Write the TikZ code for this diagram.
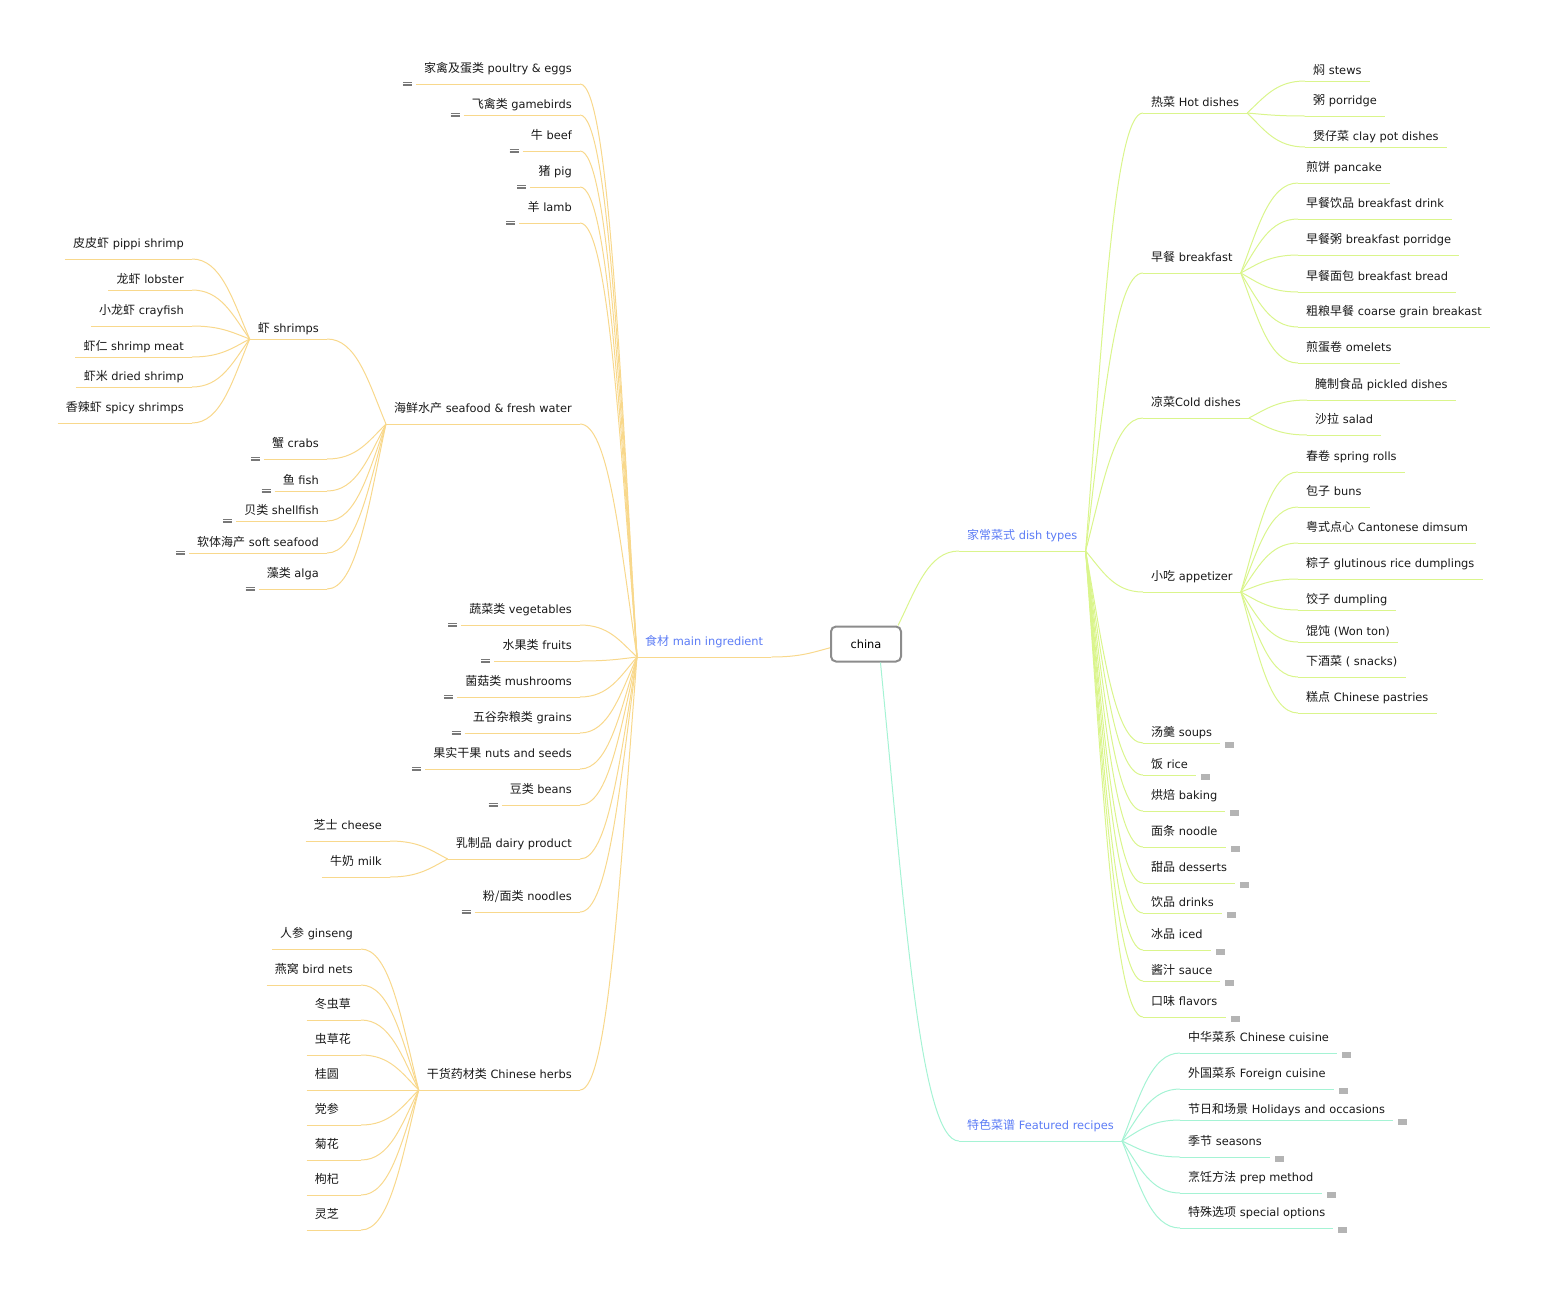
\documentclass[tikz,border=0pt]{standalone}
\usepackage{fontspec}
\setmainfont{DejaVu Sans}
\newfontfamily\zhfont{Noto Sans CJK SC}
\usepackage{tikz}
\usetikzlibrary{calc}
\definecolor{ingr}{RGB}{248,216,140}
\definecolor{dish}{RGB}{218,245,140}
\definecolor{feat}{RGB}{165,243,212}
\definecolor{mainblue}{RGB}{92,124,245}
\definecolor{notegray}{RGB}{120,120,120}
\definecolor{boxgray}{RGB}{180,180,180}
\newcommand{\zh}[1]{{\zhfont\fontsize{12pt}{14pt}\selectfont #1}}
\tikzset{
  topic/.style ={inner xsep=8pt,inner ysep=0pt,text height=10pt,text depth=11pt,
                 font=\fontsize{11.4pt}{14pt}\selectfont,text=black!90},
  lt/.style    ={topic,anchor=south east},
  rt/.style    ={topic,anchor=south west},
  tight/.style ={text depth=6pt},
  main/.style  ={topic,text=mainblue},
  herb/.style  ={lt,text width=38pt,align=left},
  root/.style  ={draw=black!45,line width=2pt,rounded corners=5pt,minimum width=70pt,
                 minimum height=35pt,font=\fontsize{11.4pt}{14pt}\selectfont},
  branch/.style={to path={let \p1=(\tikztostart),\p2=(\tikztotarget) in
                 .. controls ({\x1+0.3*(\x2-\x1)},{\y1+0.5*(\y2-\y1)})
                 and ({\x1+0.5*(\x2-\x1)},\y2) .. (\tikztotarget)}},
  ingrln/.style={draw=ingr,line width=1pt},
  dishln/.style={draw=dish,line width=1pt},
  featln/.style={draw=feat,line width=1pt},
  notes/.style ={draw=notegray,line width=0.8pt},
  more/.style  ={fill=boxgray},
}

\begin{document}
\begin{tikzpicture}[x=1pt,y=-1pt]
\useasboundingbox (0,0) rectangle (1550,1288);
%% centre
\node[root] (china) at (866,644) {china};
\node[main,anchor=south west] (mi) at (637,657) {\zh{食材} main ingredient};
\node[main,anchor=south west] (dt) at (959,551) {\zh{家常菜式} dish types};
\node[main,anchor=south west] (fr) at (959,1141) {\zh{特色菜谱} Featured recipes};
\draw[ingrln] (china.186) to[branch] (mi.south east);
\draw[dishln] (china.30)  to[branch] (dt.south west);
\draw[featln] (china.-52) to[branch] (fr.south west);
%% left: main ingredient
\node[lt] (pe) at (580,84)   {\zh{家禽及蛋类} poultry \& eggs};
\node[lt,tight] (gb) at (580,115)  {\zh{飞禽类} gamebirds};
\node[lt] (bf) at (580,151)  {\zh{牛} beef};
\node[lt] (pg) at (580,187)  {\zh{猪} pig};
\node[lt] (lb) at (580,223)  {\zh{羊} lamb};
\node[lt] (sf) at (580,424)  {\zh{海鲜水产} seafood \& fresh water};
\node[lt] (vg) at (580,625)  {\zh{蔬菜类} vegetables};
\node[lt] (ft) at (580,661)  {\zh{水果类} fruits};
\node[lt] (ms) at (580,697)  {\zh{菌菇类} mushrooms};
\node[lt] (gr) at (580,733)  {\zh{五谷杂粮类} grains};
\node[lt] (nt) at (580,769)  {\zh{果实干果} nuts and seeds};
\node[lt] (bn) at (580,805)  {\zh{豆类} beans};
\node[lt] (dp) at (580,859)  {\zh{乳制品} dairy product};
\node[lt] (nd) at (580,912)  {\zh{粉/面类} noodles};
\node[lt] (hb) at (580,1090) {\zh{干货药材类} Chinese herbs};
% seafood
\node[lt,tight] (sh) at (327,339)  {\zh{虾} shrimps};
\node[lt] (cr) at (327,459)  {\zh{蟹} crabs};
\node[lt,tight] (fi) at (327,491)  {\zh{鱼} fish};
\node[lt,tight] (se) at (327,521)  {\zh{贝类} shellfish};
\node[lt,tight] (ss) at (327,553)  {\zh{软体海产} soft seafood};
\node[lt] (al) at (327,589)  {\zh{藻类} alga};
% shrimps
\node[lt] (s1) at (192,259)  {\zh{皮皮虾} pippi shrimp};
\node[lt,tight] (s2) at (192,290)  {\zh{龙虾} lobster};
\node[lt] (s3) at (192,326)  {\zh{小龙虾} crayfish};
\node[lt,tight] (s4) at (192,357)  {\zh{虾仁} shrimp meat};
\node[lt,tight] (s5) at (192,387)  {\zh{虾米} dried shrimp};
\node[lt] (s6) at (192,423)  {\zh{香辣虾} spicy shrimps};
% dairy
\node[lt] (ch) at (390,841)  {\zh{芝士} cheese};
\node[lt] (mk) at (390,877)  {\zh{牛奶} milk};
% herbs
\node[lt]   (h1) at (361,949)  {\zh{人参} ginseng};
\node[lt]   (h2) at (361,985)  {\zh{燕窝} bird nets};
\node[herb] (h3) at (361,1020) {\zh{冬虫草}};
\node[herb] (h4) at (361,1055) {\zh{虫草花}};
\node[herb] (h5) at (361,1090) {\zh{桂圆}};
\node[herb] (h6) at (361,1125) {\zh{党参}};
\node[herb] (h7) at (361,1160) {\zh{菊花}};
\node[herb] (h8) at (361,1195) {\zh{枸杞}};
\node[herb] (h9) at (361,1230) {\zh{灵芝}};
%% right: dish types
\node[rt,tight] (hd) at (1143,113)  {\zh{热菜} Hot dishes};
\node[rt] (bk) at (1143,273)  {\zh{早餐} breakfast};
\node[rt] (cd) at (1143,418)  {\zh{凉菜}Cold dishes};
\node[rt] (ap) at (1143,592)  {\zh{小吃} appetizer};
\node[rt,tight] (sp) at (1143,743)  {\zh{汤羹} soups};
\node[rt,tight] (ri) at (1143,775)  {\zh{饭} rice};
\node[rt] (ba) at (1143,811)  {\zh{烘焙} baking};
\node[rt] (no) at (1143,847)  {\zh{面条} noodle};
\node[rt] (de) at (1143,883)  {\zh{甜品} desserts};
\node[rt,tight] (dr) at (1143,913)  {\zh{饮品} drinks};
\node[rt] (ic) at (1143,950)  {\zh{冰品} iced};
\node[rt,tight] (sa) at (1143,981)  {\zh{酱汁} sauce};
\node[rt] (fl) at (1143,1017) {\zh{口味} flavors};
% hot dishes
\node[rt,tight] (st) at (1305,81)   {\zh{焖} stews};
\node[rt] (po) at (1305,116)  {\zh{粥} porridge};
\node[rt,tight] (cp) at (1305,147)  {\zh{煲仔菜} clay pot dishes};
% breakfast
\node[rt] (b1) at (1298,183)  {\zh{煎饼} pancake};
\node[rt] (b2) at (1298,219)  {\zh{早餐饮品} breakfast drink};
\node[rt] (b3) at (1298,255)  {\zh{早餐粥} breakfast porridge};
\node[rt] (b4) at (1298,292)  {\zh{早餐面包} breakfast bread};
\node[rt] (b5) at (1298,327)  {\zh{粗粮早餐} coarse grain breakast};
\node[rt] (b6) at (1298,363)  {\zh{煎蛋卷} omelets};
% cold dishes
\node[rt] (pk) at (1307,400)  {\zh{腌制食品} pickled dishes};
\node[rt] (sl) at (1307,435)  {\zh{沙拉} salad};
% appetizer
\node[rt] (a1) at (1298,472)  {\zh{春卷} spring rolls};
\node[rt] (a2) at (1298,507)  {\zh{包子} buns};
\node[rt] (a3) at (1298,543)  {\zh{粤式点心} Cantonese dimsum};
\node[rt] (a4) at (1298,579)  {\zh{粽子} glutinous rice dumplings};
\node[rt,tight] (a5) at (1298,610)  {\zh{饺子} dumpling};
\node[rt,tight] (a6) at (1298,642)  {\zh{馄饨} (Won ton)};
\node[rt] (a7) at (1298,677)  {\zh{下酒菜} ( snacks)};
\node[rt] (a8) at (1298,713)  {\zh{糕点} Chinese pastries};
%% right: featured recipes
\node[rt] (f1) at (1180,1053) {\zh{中华菜系} Chinese cuisine};
\node[rt] (f2) at (1180,1089) {\zh{外国菜系} Foreign cuisine};
\node[rt,tight] (f3) at (1180,1120) {\zh{节日和场景} Holidays and occasions};
\node[rt] (f4) at (1180,1157) {\zh{季节} seasons};
\node[rt] (f5) at (1180,1193) {\zh{烹饪方法} prep method};
\node[rt] (f6) at (1180,1228) {\zh{特殊选项} special options};
%% underlines
\foreach \c in {mi,pe,gb,bf,pg,lb,sf,vg,ft,ms,gr,nt,bn,dp,nd,hb,sh,cr,fi,se,ss,al,
                s1,s2,s3,s4,s5,s6,ch,mk,h1,h2,h3,h4,h5,h6,h7,h8,h9}
  \draw[ingrln] (\c.south west) -- (\c.south east);
\foreach \c in {dt,hd,bk,cd,ap,sp,ri,ba,no,de,dr,ic,sa,fl,st,po,cp,
                b1,b2,b3,b4,b5,b6,pk,sl,a1,a2,a3,a4,a5,a6,a7,a8}
  \draw[dishln] (\c.south west) -- (\c.south east);
\foreach \c in {fr,f1,f2,f3,f4,f5,f6}
  \draw[featln] (\c.south west) -- (\c.south east);
%% branches, left
\foreach \c in {pe,gb,bf,pg,lb,sf,vg,ft,ms,gr,nt,bn,dp,nd,hb}
  \draw[ingrln] (mi.south west) to[branch] (\c.south east);
\foreach \c in {sh,cr,fi,se,ss,al}
  \draw[ingrln] (sf.south west) to[branch] (\c.south east);
\foreach \c in {s1,s2,s3,s4,s5,s6}
  \draw[ingrln] (sh.south west) to[branch] (\c.south east);
\foreach \c in {ch,mk}
  \draw[ingrln] (dp.south west) to[branch] (\c.south east);
\foreach \c in {h1,h2,h3,h4,h5,h6,h7,h8,h9}
  \draw[ingrln] (hb.south west) to[branch] (\c.south east);
%% branches, right
\foreach \c in {hd,bk,cd,ap,sp,ri,ba,no,de,dr,ic,sa,fl}
  \draw[dishln] (dt.south east) to[branch] (\c.south west);
\foreach \c in {st,po,cp}
  \draw[dishln] (hd.south east) to[branch] (\c.south west);
\foreach \c in {b1,b2,b3,b4,b5,b6}
  \draw[dishln] (bk.south east) to[branch] (\c.south west);
\foreach \c in {pk,sl}
  \draw[dishln] (cd.south east) to[branch] (\c.south west);
\foreach \c in {a1,a2,a3,a4,a5,a6,a7,a8}
  \draw[dishln] (ap.south east) to[branch] (\c.south west);
\foreach \c in {f1,f2,f3,f4,f5,f6}
  \draw[featln] (fr.south east) to[branch] (\c.south west);
%% note marks and folded marks
\foreach \c in {pe,gb,bf,pg,lb,vg,ft,ms,gr,nt,bn,nd,cr,fi,se,ss,al}
  \foreach \d in {-1.6,0,1.6}
    \draw[notes] ([xshift=-13pt,yshift=\d pt]\c.south west) -- ++(9pt,0);
\foreach \c in {sp,ri,ba,no,de,dr,ic,sa,fl,f1,f2,f3,f4,f5,f6}
  \fill[more] ([xshift=5pt,yshift=1pt]\c.south east) rectangle ++(9pt,-5.5pt);
\end{tikzpicture}
\end{document}
